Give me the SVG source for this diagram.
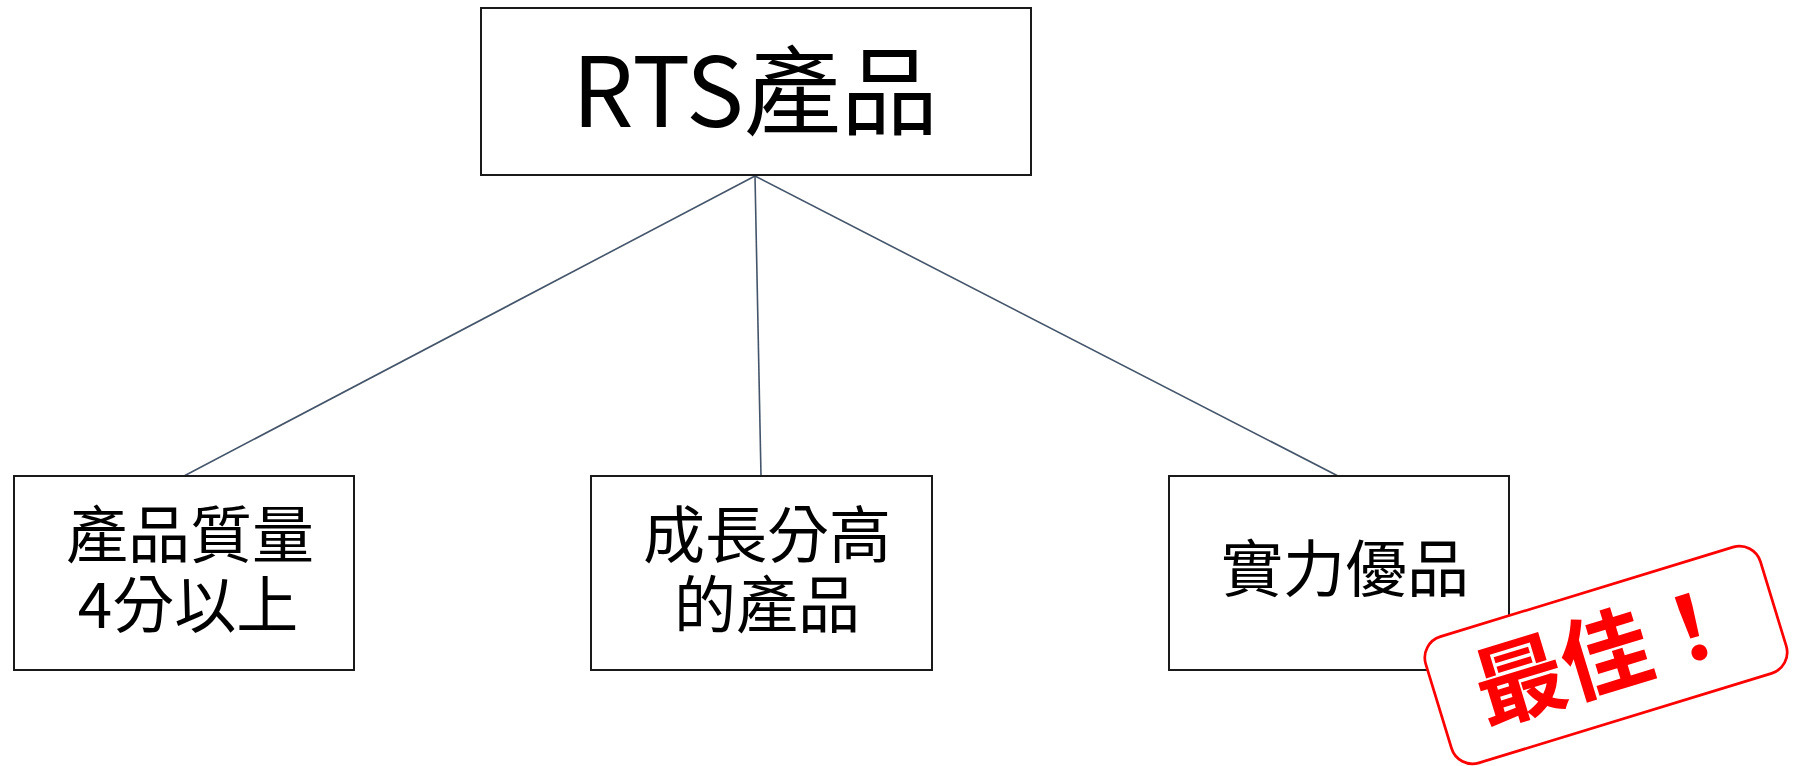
<svg xmlns="http://www.w3.org/2000/svg" width="1793" height="766" viewBox="0 0 1793 766">
  <style>
    .box { fill: #ffffff; stroke: #1a1a1a; stroke-width: 2; }
    .conn { stroke: #44546A; stroke-width: 1.6; fill: none; }
    .t { font-family: "Noto Sans CJK TC", "Noto Sans CJK SC", sans-serif; fill: #000000; text-anchor: middle; }
    .big { font-size: 97px; }
    .mid { font-size: 62px; }
    .stamp-rect { fill: #ffffff; stroke: #ff0000; stroke-width: 2.7; }
    .stamp-text { font-family: "Noto Sans CJK TC", "Noto Sans CJK SC", sans-serif; font-weight: bold; font-size: 90px; fill: #ff0000; text-anchor: middle; }
  </style>
  <rect width="1793" height="766" fill="#ffffff"/>
  <g id="connectors">
    <line class="conn" x1="755" y1="176" x2="184" y2="476"/>
    <line class="conn" x1="755" y1="176" x2="761" y2="476"/>
    <line class="conn" x1="755" y1="176" x2="1338" y2="476"/>
  </g>
  <g id="node-root">
    <rect class="box" x="481" y="8" width="550" height="167"/>
    <text class="t big" x="755" y="127">RTS產品</text>
  </g>
  <g id="node-quality">
    <rect class="box" x="14" y="476" width="340" height="194"/>
    <text class="t mid" x="190" y="558">產品質量</text>
    <text class="t mid" x="188" y="628">4分以上</text>
  </g>
  <g id="node-growth">
    <rect class="box" x="591" y="476" width="341" height="194"/>
    <text class="t mid" x="767" y="558">成長分高</text>
    <text class="t mid" x="767" y="628">的產品</text>
  </g>
  <g id="node-best">
    <rect class="box" x="1169" y="476" width="340" height="194"/>
    <text class="t mid" x="1345" y="592">實力優品</text>
  </g>
  <g id="stamp" transform="translate(1606 655) rotate(-17)">
    <rect class="stamp-rect" x="-175" y="-66" width="350" height="132" rx="22" ry="22"/>
    <text class="stamp-text" x="0" y="32">最佳！</text>
  </g>
</svg>
